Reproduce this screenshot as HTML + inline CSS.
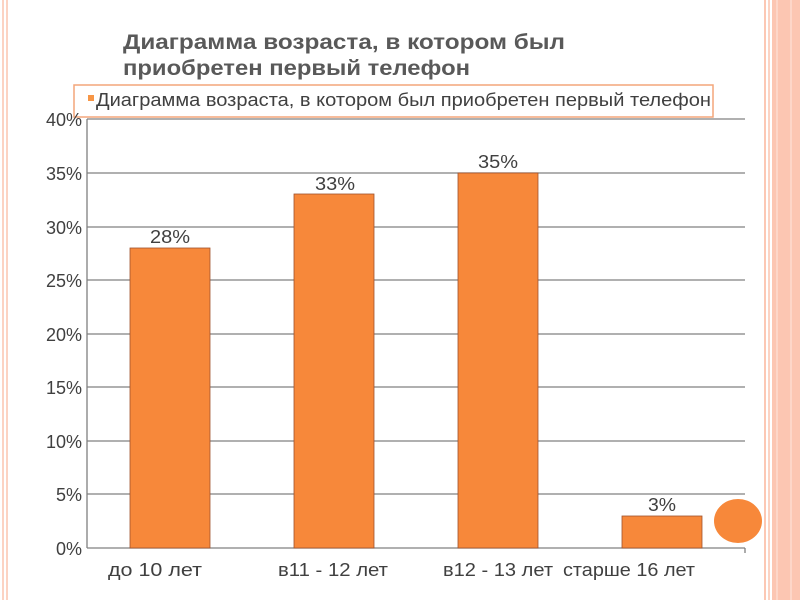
<!DOCTYPE html>
<html><head><meta charset="utf-8"><style>
body{margin:0;width:800px;height:600px;background:#fff;overflow:hidden;font-family:"Liberation Sans",sans-serif;}
</style></head><body>
<svg width="800" height="600" xmlns="http://www.w3.org/2000/svg" font-family="Liberation Sans, sans-serif">
<rect x="0" y="0" width="800" height="600" fill="#fff"/>
<rect x="2" y="0" width="2" height="600" fill="#fcd3c3"/>
<rect x="6" y="0" width="2" height="600" fill="#fcd3c3"/>
<rect x="764" y="0" width="2" height="600" fill="#fcc8b4"/>
<rect x="768" y="0" width="2" height="600" fill="#fcd3c3"/>
<rect x="772" y="0" width="28" height="600" fill="#fcc6b2"/>
<rect x="776" y="0" width="2" height="600" fill="#fdd6c8"/>
<rect x="790" y="0" width="2" height="600" fill="#fdd6c8"/>
<text x="123" y="49" font-size="21" font-weight="bold" fill="#595959" textLength="442" lengthAdjust="spacingAndGlyphs">Диаграмма возраста, в котором был</text>
<text x="123" y="75" font-size="21" font-weight="bold" fill="#595959" textLength="347" lengthAdjust="spacingAndGlyphs">приобретен первый телефон</text>
<g stroke="#808080" stroke-width="1.3">
<line x1="87" y1="119" x2="745" y2="119"/>
<line x1="87" y1="173" x2="745" y2="173"/>
<line x1="87" y1="227" x2="745" y2="227"/>
<line x1="87" y1="280" x2="745" y2="280"/>
<line x1="87" y1="334" x2="745" y2="334"/>
<line x1="87" y1="387" x2="745" y2="387"/>
<line x1="87" y1="441" x2="745" y2="441"/>
<line x1="87" y1="494" x2="745" y2="494"/>
<line x1="87" y1="548" x2="745" y2="548"/>
<line x1="87" y1="119" x2="87" y2="548"/>
<line x1="745" y1="548" x2="745" y2="553"/>
</g>
<rect x="74" y="85" width="639" height="32" fill="#fff" stroke="#f4a67a" stroke-width="1.5"/>
<rect x="88" y="95" width="6" height="6" fill="#f79646"/>
<text x="96" y="106" font-size="18" fill="#404040" textLength="615" lengthAdjust="spacingAndGlyphs">Диаграмма возраста, в котором был приобретен первый телефон</text>
<g font-size="18" fill="#404040" text-anchor="end">
<text x="82" y="126">40%</text><text x="82" y="180">35%</text><text x="82" y="234">30%</text>
<text x="82" y="287">25%</text><text x="82" y="341">20%</text><text x="82" y="394">15%</text>
<text x="82" y="448">10%</text><text x="82" y="501">5%</text><text x="82" y="555">0%</text>
</g>
<g fill="#f7883a" stroke="#a0522d" stroke-width="0.8">
<rect x="130" y="248" width="80" height="300"/>
<rect x="294" y="194" width="80" height="354"/>
<rect x="458" y="173" width="80" height="375"/>
<rect x="622" y="516" width="80" height="32"/>
</g>
<g font-size="18" fill="#404040">
<text x="150" y="243" textLength="40" lengthAdjust="spacingAndGlyphs">28%</text>
<text x="315" y="190" textLength="40" lengthAdjust="spacingAndGlyphs">33%</text>
<text x="478" y="168" textLength="40" lengthAdjust="spacingAndGlyphs">35%</text>
<text x="648" y="511" textLength="28" lengthAdjust="spacingAndGlyphs">3%</text>
<text x="108" y="576" textLength="94" lengthAdjust="spacingAndGlyphs">до 10 лет</text>
<text x="278" y="576" textLength="110" lengthAdjust="spacingAndGlyphs">в11 - 12 лет</text>
<text x="443" y="576" textLength="110" lengthAdjust="spacingAndGlyphs">в12 - 13 лет</text>
<text x="563" y="576" textLength="132" lengthAdjust="spacingAndGlyphs">старше 16 лет</text>
</g>
<ellipse cx="738" cy="521" rx="24" ry="22" fill="#f7883a"/>
</svg>
</body></html>
